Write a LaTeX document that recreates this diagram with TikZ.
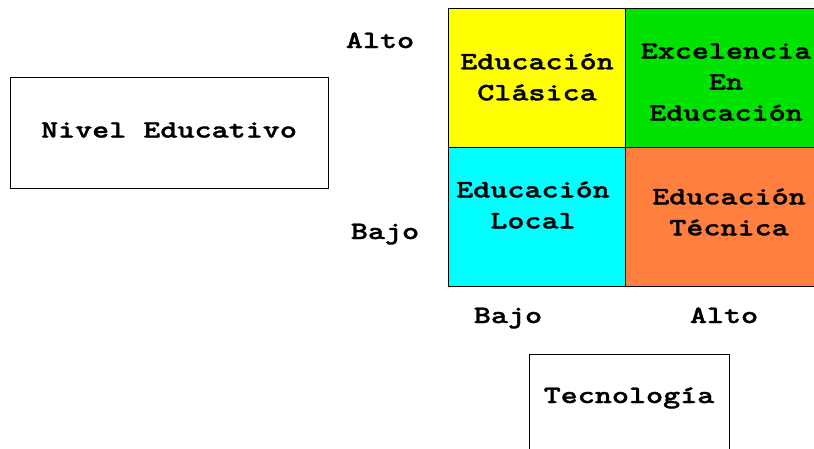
\documentclass[tikz,border=0pt]{standalone}
\usepackage{fontspec}
\newfontfamily\cour[FakeStretch=1.3,FakeBold=1.3]{lmmonolt10-bold.otf}
\definecolor{cyel}{RGB}{255,255,0}
\definecolor{cgrn}{RGB}{0,226,0}
\definecolor{ccyn}{RGB}{0,255,255}
\definecolor{corg}{RGB}{255,127,63}
\begin{document}
\begin{tikzpicture}[x=1pt,y=-1pt,
  lbl/.style={font=\fontsize{25}{31}\selectfont\cour, align=center, inner sep=0pt},
  cell/.style={draw=black, line width=1.4pt, anchor=north west, minimum width=177pt, minimum height=139pt, inner sep=0pt},
  box/.style={draw=black, line width=1.2pt, anchor=north west, inner sep=0pt}]
\useasboundingbox (0,0) rectangle (814,448);
% cells
\node[cell, fill=cyel] (c11) at (448,8) {};
\node[cell, fill=cgrn, minimum width=190pt] (c12) at (625,8) {};
\node[cell, fill=ccyn] (c21) at (448,147) {};
\node[cell, fill=corg, minimum width=190pt] (c22) at (625,147) {};
% cell texts
\node[lbl] (t11) at (537,77) {Educación\\Clásica};
\node[lbl] (t12) at (726,82) {Excelencia\\En\\Educación};
\node[lbl] (t21) at (533,205) {Educación\\Local};
\node[lbl] (t22) at (729,212) {Educación\\Técnica};
% boxes
\node[box, minimum width=318pt, minimum height=111pt] (nivel) at (10,77) {};
\node[lbl] (niveltxt) at (169,130) {Nivel Educativo};
\node[box, minimum width=200pt, minimum height=130pt] (tec) at (529,354) {};
\node[lbl, anchor=base] (tectxt) at (629,403) {Tecnología};
% axis labels
\node[lbl, anchor=base] (yalto) at (380,48) {Alto};
\node[lbl, anchor=base] (ybajo) at (385,239) {Bajo};
\node[lbl, anchor=base] (xbajo) at (508,323) {Bajo};
\node[lbl, anchor=base] (xalto) at (724,323) {Alto};
\end{tikzpicture}
\end{document}
